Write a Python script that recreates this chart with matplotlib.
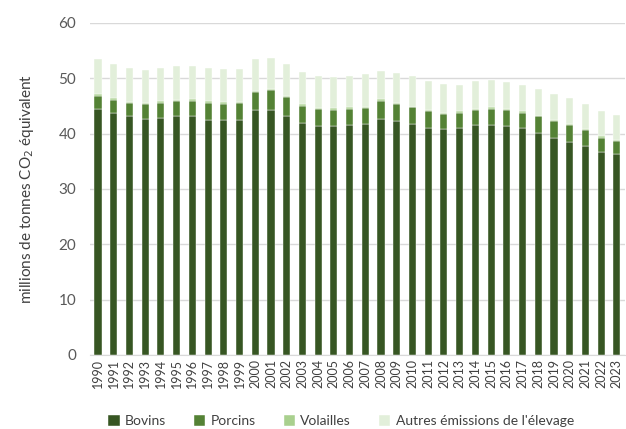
import numpy as np
import matplotlib.pyplot as plt

plt.rcParams['font.family'] = ['Lato', 'DejaVu Sans']

years = [str(y) for y in range(1990, 2024)]

# cumulative tops (millions t CO2e)
bovins_top = [44.5, 43.8, 43.1, 42.7, 42.9, 43.1, 43.1, 42.5, 42.4, 42.4,
              44.3, 44.3, 43.25, 41.9, 41.3, 41.3, 41.5, 41.8, 42.65, 42.2,
              41.8, 41.1, 40.8, 40.95, 41.5, 41.6, 41.45, 40.95, 40.2, 39.3,
              38.55, 37.7, 36.6, 36.3]
porcins_top = [46.8, 46.1, 45.6, 45.4, 45.6, 45.9, 45.9, 45.6, 45.4, 45.6,
               47.5, 47.8, 46.6, 45.05, 44.5, 44.3, 44.5, 44.7, 45.9, 45.4,
               44.8, 44.15, 43.6, 43.8, 44.3, 44.5, 44.3, 43.8, 43.1, 42.3,
               41.6, 40.6, 39.2, 38.7]
volailles_top = [47.2, 46.4, 45.7, 45.5, 45.9, 46.0, 46.2, 45.9, 45.7, 45.7,
                 47.65, 48.1, 46.75, 45.4, 44.7, 44.7, 44.8, 44.9, 46.3, 45.5,
                 44.9, 44.3, 43.8, 44.0, 44.5, 44.8, 44.45, 44.0, 43.25, 42.5,
                 41.8, 40.8, 39.5, 38.9]
total = [53.5, 52.6, 51.9, 51.55, 51.9, 52.3, 52.3, 51.9, 51.7, 51.7,
         53.5, 53.7, 52.6, 51.1, 50.4, 50.2, 50.4, 50.7, 51.4, 50.9,
         50.4, 49.5, 49.0, 48.8, 49.5, 49.7, 49.3, 48.8, 48.1, 47.2,
         46.5, 45.3, 44.1, 43.3]

bovins = np.array(bovins_top)
porcins = np.array(porcins_top) - bovins
volailles = np.array(volailles_top) - np.array(porcins_top)
autres = np.array(total) - np.array(volailles_top)

series = [bovins, porcins, volailles, autres]
labels = ['Bovins', 'Porcins', 'Volailles', "Autres émissions de l'élevage"]
colors = ['#375623', '#548235', '#a9d08e', '#e2efda']

fig = plt.figure(figsize=(6.26, 4.29), dpi=100)
ax = fig.add_axes([0.144, 0.1725, 0.854, 0.774])

x = np.arange(len(years))
bottom = np.zeros(len(years))
for vals, lab, col in zip(series, labels, colors):
    ax.bar(x, vals, 0.45, bottom=bottom, color=col, label=lab,
           edgecolor='white', linewidth=0.3, zorder=3)
    bottom += vals

ax.set_xlim(-0.5, len(years) - 0.5)
ax.set_ylim(0, 60)
ax.set_yticks(range(0, 61, 10))
ax.set_xticks(x)
ax.set_xticklabels(years, rotation=90, fontsize=9, color='#404040')
ax.tick_params(axis='y', length=0, labelsize=11, labelcolor='#595959', pad=10)
ax.tick_params(axis='x', length=0, pad=3)
ax.grid(axis='y', color='#d9d9d9', linewidth=1, zorder=0)
for s in ['top', 'right', 'left']:
    ax.spines[s].set_visible(False)
ax.spines['bottom'].set_color('#d9d9d9')

ax.set_ylabel('millions de tonnes CO$_2$ équivalent', fontsize=11,
              color='#404040', labelpad=16)

fig.legend(loc='lower center', bbox_to_anchor=(0.545, -0.025), ncol=4,
           frameon=False, fontsize=10, handlelength=0.8, handleheight=0.8,
           columnspacing=2.0, handletextpad=0.4, labelcolor='#404040')

fig.savefig('out.png', dpi=100)
